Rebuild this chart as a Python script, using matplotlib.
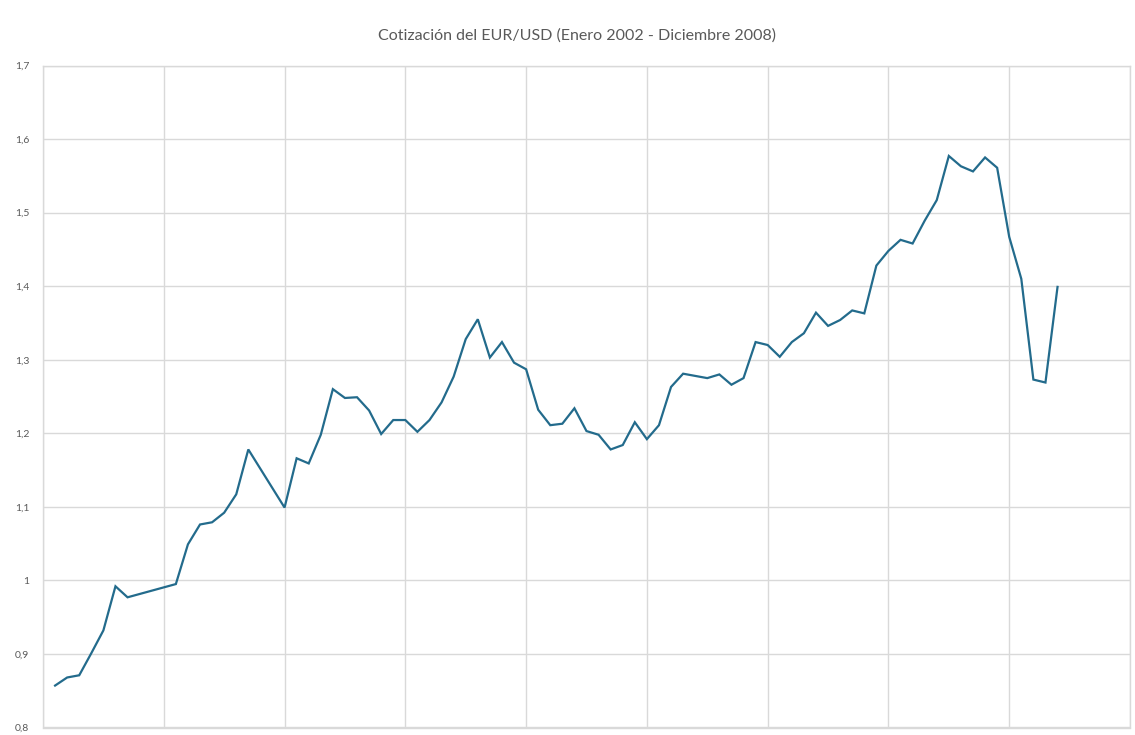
import matplotlib
matplotlib.use("Agg")
import matplotlib.pyplot as plt
from matplotlib.ticker import FuncFormatter

# month number (1 = Jan 2002) and EUR/USD rate; a few months are missing in the source
months = [1, 2, 3, 4, 5, 6, 7, 11, 12, 13, 14, 15, 16, 17, 20, 21, 22, 23, 24,
          25, 26, 27, 28, 29, 30, 31, 32, 33, 34, 35, 36, 37, 38, 39, 40, 41, 42,
          43, 44, 45, 46, 47, 48, 49, 50, 51, 52, 53, 54, 55, 56, 57, 58, 59, 60,
          61, 62, 63, 64, 65, 66, 67, 68, 69, 70, 71, 72, 73, 74, 75, 76, 77, 78,
          79, 80, 81, 82, 83, 84]
rate = [0.857, 0.868, 0.871, 0.901, 0.932, 0.992, 0.977, 0.995, 1.049, 1.076,
        1.079, 1.092, 1.117, 1.178, 1.099, 1.166, 1.159, 1.198, 1.260, 1.248,
        1.249, 1.231, 1.199, 1.218, 1.218, 1.202, 1.218, 1.242, 1.277, 1.328,
        1.355, 1.303, 1.324, 1.296, 1.287, 1.232, 1.211, 1.213, 1.234, 1.203,
        1.198, 1.178, 1.184, 1.215, 1.192, 1.211, 1.263, 1.281, 1.278, 1.275,
        1.280, 1.266, 1.275, 1.324, 1.320, 1.304, 1.324, 1.336, 1.364, 1.346,
        1.354, 1.367, 1.363, 1.428, 1.448, 1.463, 1.458, 1.489, 1.517, 1.577,
        1.563, 1.556, 1.575, 1.561, 1.467, 1.410, 1.273, 1.269, 1.399]

title = "Cotización del EUR/USD (Enero 2002 - Diciembre 2008)"

plt.rcParams["font.family"] = ["Lato", "DejaVu Sans"]

fig = plt.figure(figsize=(11.35, 7.35), dpi=100)
ax = fig.add_axes([43 / 1135, 7.5 / 735, 1087 / 1135, 662 / 735])

ax.plot(months, rate, color="#236b8c", linewidth=1.6, solid_joinstyle="miter")

ax.set_xlim(0, 90)
ax.set_ylim(0.8, 1.7)
ax.set_xticks(range(0, 91, 10))
ax.set_yticks([0.8, 0.9, 1.0, 1.1, 1.2, 1.3, 1.4, 1.5, 1.6, 1.7])
ax.yaxis.set_major_formatter(FuncFormatter(lambda v, p: f"{v:g}".replace(".", ",")))
ax.set_xticklabels([])
ax.tick_params(axis="both", length=0, labelsize=7.5, labelcolor="#595959", pad=10)
ax.grid(True, color="#d9d9d9", linewidth=1)
ax.set_axisbelow(True)
for s in ax.spines.values():
    s.set_color("#d9d9d9")
    s.set_linewidth(1)

fig.text(577 / 1135, 1 - 36 / 735, title, ha="center", va="center",
         fontsize=11.5, color="#595959")

fig.savefig("out.png", dpi=100)
